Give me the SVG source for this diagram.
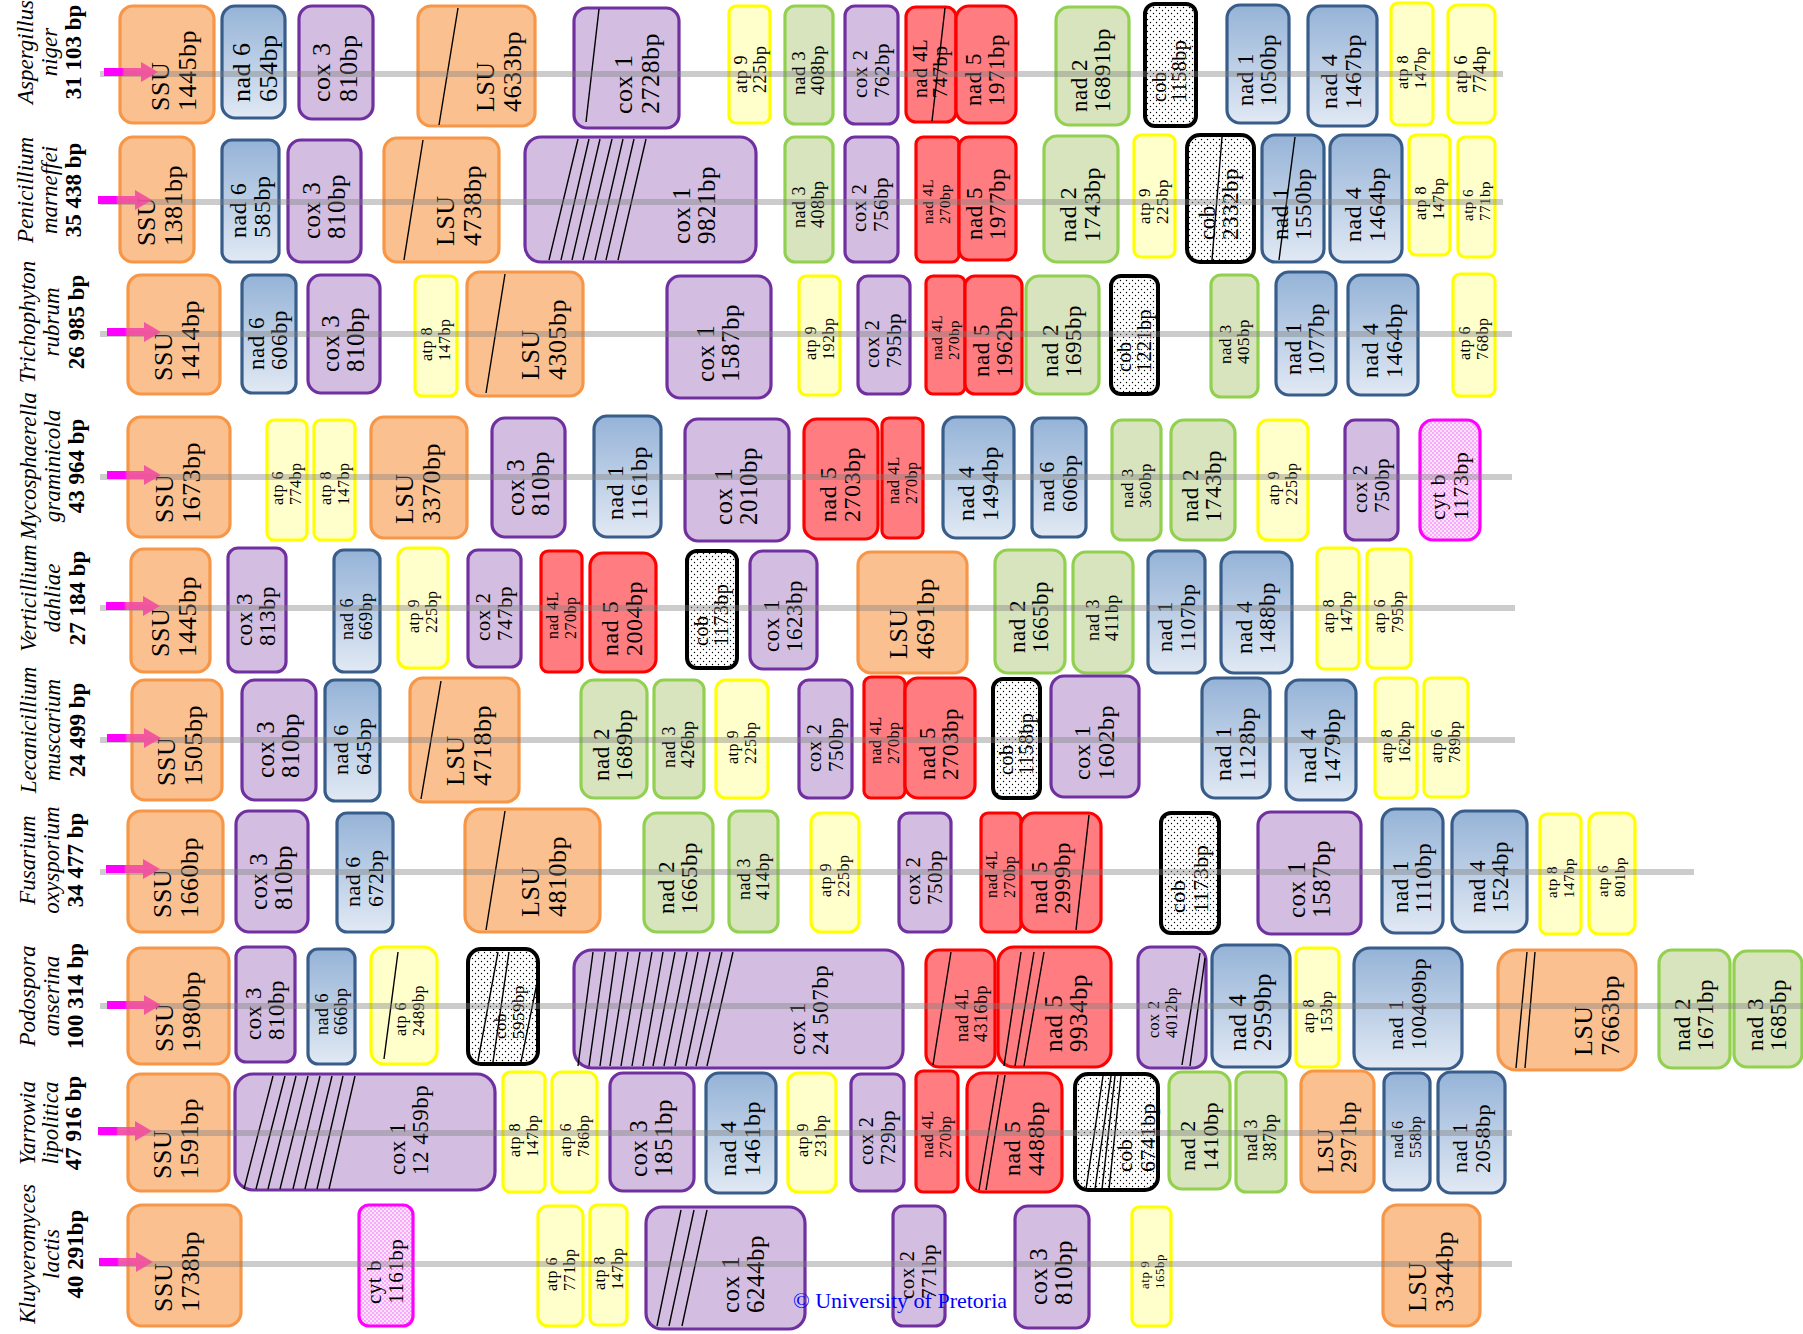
<svg xmlns="http://www.w3.org/2000/svg" width="1803" height="1334" viewBox="0 0 1803 1334">
<defs>
<linearGradient id="gb" x1="0" y1="0" x2="0" y2="1"><stop offset="0" stop-color="#95B3D7"/><stop offset="1" stop-color="#E1E9F4"/></linearGradient>
<linearGradient id="ga" x1="0" y1="0" x2="1" y2="0"><stop offset="0" stop-color="#FF00FF"/><stop offset="0.33" stop-color="#FF00FF"/><stop offset="0.38" stop-color="#F448A8" stop-opacity="0.9"/><stop offset="1" stop-color="#F0509A" stop-opacity="0.9"/></linearGradient>
<pattern id="dots" width="6" height="6" patternUnits="userSpaceOnUse"><rect width="6" height="6" fill="#fff"/><circle cx="1.5" cy="1.5" r="0.7" fill="#000"/><circle cx="4.5" cy="4.5" r="0.7" fill="#000"/></pattern>
<pattern id="pdots" width="4" height="4" patternUnits="userSpaceOnUse"><rect width="4" height="4" fill="#FFE4FF"/><circle cx="1" cy="1" r="0.7" fill="#F040F0"/><circle cx="3" cy="3" r="0.7" fill="#F040F0"/></pattern>
<path id="arr" d="M-54,-4 H-17 V-10 L0,0 L-17,10 V4 H-54 Z"/>
</defs>
<style>
.or{fill:#FAC090;stroke:#F79646;stroke-width:3.2}
.pu{fill:#D3BEE1;stroke:#7030A0;stroke-width:3.2}
.bl{fill:url(#gb);stroke:#385D8A;stroke-width:3.2}
.gr{fill:#D7E4BD;stroke:#92D050;stroke-width:3.2}
.rd{fill:#FF7C80;stroke:#FF0000;stroke-width:3.2}
.ye{fill:#FFFFCC;stroke:#FFFF00;stroke-width:3.2}
.cb{fill:url(#dots);stroke:#000;stroke-width:4}
.cy{fill:url(#pdots);stroke:#FF00FF;stroke-width:3.2}
text{font-family:"Liberation Serif","Times New Roman",serif;fill:#000;letter-spacing:0.5px}
.sl{stroke:#000;stroke-width:1.4;fill:none}
.f13{font-size:13px}.f15{font-size:15px}.f16{font-size:16px}.f17{font-size:17px}.f18{font-size:18px}.f19{font-size:19px}.f20{font-size:20px}.f21{font-size:21px}.f22{font-size:22px}.f23{font-size:23px}.f24{font-size:24px}.f25{font-size:25px}.f26{font-size:26px}
.sp{font-size:23px;text-anchor:middle;letter-spacing:0}
.it{font-style:italic}.bd{font-weight:bold}
.gl{stroke:#808080;stroke-width:6;stroke-opacity:0.4;fill:none}
.ar{fill:url(#ga)}
.cr{font-size:22px;fill:#0000FF;letter-spacing:0}
</style>
<rect width="1803" height="1334" fill="#fff"/>

<g id="species">
<g id="sp1"><text class="sp" transform="translate(0 52) rotate(-90)"><tspan class="it" x="0" y="33">Aspergillus</tspan><tspan class="it" x="0" y="57">niger</tspan><tspan class="bd" x="0" y="81">31 103 bp</tspan></text></g>
<g id="sp2"><text class="sp" transform="translate(0 190) rotate(-90)"><tspan class="it" x="0" y="33">Penicillium</tspan><tspan class="it" x="0" y="57">marneffei</tspan><tspan class="bd" x="0" y="81">35 438 bp</tspan></text></g>
<g id="sp3"><text class="sp" transform="translate(0 322) rotate(-90)"><tspan class="it" x="0" y="35">Trichophyton</tspan><tspan class="it" x="0" y="59">rubrum</tspan><tspan class="bd" x="0" y="84">26 985 bp</tspan></text></g>
<g id="sp4"><text class="sp" transform="translate(0 466) rotate(-90)"><tspan class="it" x="0" y="36">Mycosphaerella</tspan><tspan class="it" x="0" y="60">graminicola</tspan><tspan class="bd" x="0" y="84">43 964 bp</tspan></text></g>
<g id="sp5"><text class="sp" transform="translate(0 598) rotate(-90)"><tspan class="it" x="0" y="36">Verticillium</tspan><tspan class="it" x="0" y="60">dahliae</tspan><tspan class="bd" x="0" y="85">27 184 bp</tspan></text></g>
<g id="sp6"><text class="sp" transform="translate(0 730) rotate(-90)"><tspan class="it" x="0" y="36">Lecanicillium</tspan><tspan class="it" x="0" y="60">muscarium</tspan><tspan class="bd" x="0" y="85">24 499 bp</tspan></text></g>
<g id="sp7"><text class="sp" transform="translate(0 860) rotate(-90)"><tspan class="it" x="0" y="35">Fusarium</tspan><tspan class="it" x="0" y="59">oxysporium</tspan><tspan class="bd" x="0" y="83">34 477 bp</tspan></text></g>
<g id="sp8"><text class="sp" transform="translate(0 996) rotate(-90)"><tspan class="it" x="0" y="35">Podospora</tspan><tspan class="it" x="0" y="59">anserina</tspan><tspan class="bd" x="0" y="83">100 314 bp</tspan></text></g>
<g id="sp9"><text class="sp" transform="translate(0 1123) rotate(-90)"><tspan class="it" x="0" y="35">Yarrowia</tspan><tspan class="it" x="0" y="58">lipolitica</tspan><tspan class="bd" x="0" y="81">47 916 bp</tspan></text></g>
<g id="sp10"><text class="sp" transform="translate(0 1254) rotate(-90)"><tspan class="it" x="0" y="35">Kluyveromyces</tspan><tspan class="it" x="0" y="59">lactis</tspan><tspan class="bd" x="0" y="83">40 291bp</tspan></text></g>
</g>

<g id="row1">
<g id="r1-ssu"><rect class="or" x="120" y="6" width="94" height="117" rx="13"/><text class="f26" transform="translate(175 111) rotate(-90)"><tspan x="0" y="-5.7">SSU</tspan><tspan x="0" y="20.8">1445bp</tspan></text></g>
<g id="r1-nad6"><rect class="bl" x="222" y="6" width="63" height="112" rx="13"/><text class="f26" transform="translate(256 102) rotate(-90)"><tspan x="0" y="-5.7">nad 6</tspan><tspan x="0" y="20.8">654bp</tspan></text></g>
<g id="r1-cox3"><rect class="pu" x="299" y="6" width="74" height="113" rx="13"/><text class="f26" transform="translate(336 102) rotate(-90)"><tspan x="0" y="-5.7">cox 3</tspan><tspan x="0" y="20.8">810bp</tspan></text></g>
<g id="r1-lsu"><rect class="or" x="418" y="6" width="117" height="120" rx="13"/><line class="sl" x1="458" y1="8" x2="439" y2="125"/><text class="f26" transform="translate(500 112) rotate(-90)"><tspan x="0" y="-5.7">LSU</tspan><tspan x="0" y="20.8">4633bp</tspan></text></g>
<g id="r1-cox1"><rect class="pu" x="574" y="8" width="105" height="120" rx="13"/><line class="sl" x1="599" y1="9" x2="586" y2="122"/><text class="f26" transform="translate(638 114) rotate(-90)"><tspan x="0" y="-5.7">cox 1</tspan><tspan x="0" y="20.8">2728bp</tspan></text></g>
<g id="r1-atp9"><rect class="ye" x="729" y="6" width="41" height="117" rx="7"/><text class="f18" transform="translate(751 93) rotate(-90)"><tspan x="0" y="-4">atp 9</tspan><tspan x="0" y="14.6">225bp</tspan></text></g>
<g id="r1-nad3"><rect class="gr" x="785" y="6" width="48" height="118" rx="10"/><text class="f19" transform="translate(809 95) rotate(-90)"><tspan x="0" y="-4.2">nad 3</tspan><tspan x="0" y="15.2">408bp</tspan></text></g>
<g id="r1-cox2"><rect class="pu" x="845" y="6" width="53" height="118" rx="10"/><text class="f21" transform="translate(872 98) rotate(-90)"><tspan x="0" y="-4.6">cox 2</tspan><tspan x="0" y="16.8">762bp</tspan></text></g>
<g id="r1-nad4L"><rect class="rd" x="906" y="7" width="50" height="115" rx="10"/><line class="sl" x1="945" y1="8" x2="932" y2="121"/><text class="f20" transform="translate(931 98) rotate(-90)"><tspan x="0" y="-4.4">nad 4L</tspan><tspan x="0" y="16">747bp</tspan></text></g>
<g id="r1-nad5"><rect class="rd" x="956" y="6" width="60" height="117" rx="13"/><text class="f23" transform="translate(986 106) rotate(-90)"><tspan x="0" y="-5.1">nad 5</tspan><tspan x="0" y="18.4">1971bp</tspan></text></g>
<g id="r1-nad2"><rect class="gr" x="1056" y="7" width="73" height="118" rx="13"/><text class="f23" transform="translate(1092 112) rotate(-90)"><tspan x="0" y="-5.1">nad 2</tspan><tspan x="0" y="18.4">16891bp</tspan></text></g>
<g id="r1-cob"><rect class="cb" x="1145" y="4" width="51" height="122" rx="10"/><text class="f20" transform="translate(1170 102) rotate(-90)"><tspan x="0" y="-4.4">cob</tspan><tspan x="0" y="16">1158bp</tspan></text></g>
<g id="r1-nad1"><rect class="bl" x="1227" y="5" width="62" height="118" rx="13"/><text class="f23" transform="translate(1258 106) rotate(-90)"><tspan x="0" y="-5.1">nad 1</tspan><tspan x="0" y="18.4">1050bp</tspan></text></g>
<g id="r1-nad4"><rect class="bl" x="1308" y="6" width="69" height="120" rx="13"/><text class="f24" transform="translate(1342 109) rotate(-90)"><tspan x="0" y="-5.3">nad 4</tspan><tspan x="0" y="19.2">1467bp</tspan></text></g>
<g id="r1-atp8"><rect class="ye" x="1391" y="3" width="42" height="122" rx="7"/><text class="f16" transform="translate(1412 89) rotate(-90)"><tspan x="0" y="-3.8">atp 8</tspan><tspan x="0" y="14">147bp</tspan></text></g>
<g id="r1-atp6"><rect class="ye" x="1448" y="5" width="47" height="118" rx="10"/><text class="f18" transform="translate(1471 93) rotate(-90)"><tspan x="0" y="-4">atp 6</tspan><tspan x="0" y="14.6">774bp</tspan></text></g>
</g>

<g id="row2">
<g id="r2-ssu"><rect class="or" x="120" y="137" width="74" height="125" rx="13"/><text class="f26" transform="translate(161 246) rotate(-90)"><tspan x="0" y="-5.7">SSU</tspan><tspan x="0" y="20.8">1381bp</tspan></text></g>
<g id="r2-nad6"><rect class="bl" x="222" y="140" width="57" height="122" rx="10"/><text class="f24" transform="translate(251 238) rotate(-90)"><tspan x="0" y="-5.3">nad 6</tspan><tspan x="0" y="19.2">585bp</tspan></text></g>
<g id="r2-cox3"><rect class="pu" x="288" y="140" width="73" height="122" rx="13"/><text class="f25" transform="translate(325 239) rotate(-90)"><tspan x="0" y="-5.5">cox 3</tspan><tspan x="0" y="20">810bp</tspan></text></g>
<g id="r2-lsu"><rect class="or" x="384" y="138" width="115" height="124" rx="13"/><line class="sl" x1="423" y1="140" x2="404" y2="260"/><text class="f26" transform="translate(460 246) rotate(-90)"><tspan x="0" y="-5.7">LSU</tspan><tspan x="0" y="20.8">4738bp</tspan></text></g>
<g id="r2-cox1"><rect class="pu" x="525" y="137" width="231" height="125" rx="16"/><path class="sl" d="M578,139L549,260M589,139L561,260M600,139L572,260M612,139L583,260M623,139L595,260M634,139L606,260M646,139L618,260"/><text class="f25" transform="translate(695 244) rotate(-90)"><tspan x="0" y="-5.5">cox 1</tspan><tspan x="0" y="20">9821bp</tspan></text></g>
<g id="r2-nad3"><rect class="gr" x="785" y="137" width="48" height="125" rx="10"/><text class="f18" transform="translate(809 228) rotate(-90)"><tspan x="0" y="-4">nad 3</tspan><tspan x="0" y="14.6">408bp</tspan></text></g>
<g id="r2-cox2"><rect class="pu" x="845" y="137" width="53" height="125" rx="10"/><text class="f21" transform="translate(871 232) rotate(-90)"><tspan x="0" y="-4.6">cox 2</tspan><tspan x="0" y="16.8">756bp</tspan></text></g>
<g id="r2-nad4L"><rect class="rd" x="916" y="137" width="43" height="125" rx="7"/><text class="f15" transform="translate(937 224) rotate(-90)"><tspan x="0" y="-3.6">nad 4L</tspan><tspan x="0" y="13.2">270bp</tspan></text></g>
<g id="r2-nad5"><rect class="rd" x="959" y="137" width="57" height="123" rx="10"/><text class="f23" transform="translate(987 240) rotate(-90)"><tspan x="0" y="-5.1">nad 5</tspan><tspan x="0" y="18.4">1977bp</tspan></text></g>
<g id="r2-nad2"><rect class="gr" x="1044" y="136" width="74" height="126" rx="13"/><text class="f24" transform="translate(1081 242) rotate(-90)"><tspan x="0" y="-5.3">nad 2</tspan><tspan x="0" y="19.2">1743bp</tspan></text></g>
<g id="r2-atp9"><rect class="ye" x="1134" y="135" width="41" height="122" rx="7"/><text class="f17" transform="translate(1154 224) rotate(-90)"><tspan x="0" y="-3.9">atp 9</tspan><tspan x="0" y="14.4">225bp</tspan></text></g>
<g id="r2-cob"><rect class="cb" x="1187" y="135" width="67" height="127" rx="13"/><line class="sl" x1="1222" y1="137" x2="1212" y2="260"/><text class="f23" transform="translate(1220 240) rotate(-90)"><tspan x="0" y="-5.1">cob</tspan><tspan x="0" y="18.4">2332bp</tspan></text></g>
<g id="r2-nad1"><rect class="bl" x="1262" y="135" width="62" height="127" rx="13"/><line class="sl" x1="1295" y1="137" x2="1279" y2="260"/><text class="f23" transform="translate(1293 240) rotate(-90)"><tspan x="0" y="-5.1">nad 1</tspan><tspan x="0" y="18.4">1550bp</tspan></text></g>
<g id="r2-nad4"><rect class="bl" x="1330" y="135" width="72" height="127" rx="13"/><text class="f24" transform="translate(1366 242) rotate(-90)"><tspan x="0" y="-5.3">nad 4</tspan><tspan x="0" y="19.2">1464bp</tspan></text></g>
<g id="r2-atp8"><rect class="ye" x="1409" y="135" width="41" height="120" rx="7"/><text class="f16" transform="translate(1430 220) rotate(-90)"><tspan x="0" y="-3.8">atp 8</tspan><tspan x="0" y="14">147bp</tspan></text></g>
<g id="r2-atp6"><rect class="ye" x="1458" y="137" width="37" height="120" rx="7"/><text class="f15" transform="translate(1477 221) rotate(-90)"><tspan x="0" y="-3.6">atp 6</tspan><tspan x="0" y="13.2">771bp</tspan></text></g>
</g>

<g id="row3">
<g id="r3-ssu"><rect class="or" x="128" y="275" width="92" height="119" rx="13"/><text class="f26" transform="translate(178 381) rotate(-90)"><tspan x="0" y="-5.7">SSU</tspan><tspan x="0" y="20.8">1414bp</tspan></text></g>
<g id="r3-nad6"><rect class="bl" x="242" y="275" width="54" height="118" rx="10"/><text class="f23" transform="translate(269 370) rotate(-90)"><tspan x="0" y="-5.1">nad 6</tspan><tspan x="0" y="18.4">606bp</tspan></text></g>
<g id="r3-cox3"><rect class="pu" x="308" y="275" width="72" height="118" rx="13"/><text class="f25" transform="translate(344 372) rotate(-90)"><tspan x="0" y="-5.5">cox 3</tspan><tspan x="0" y="20">810bp</tspan></text></g>
<g id="r3-atp8"><rect class="ye" x="415" y="276" width="42" height="120" rx="7"/><text class="f16" transform="translate(436 361) rotate(-90)"><tspan x="0" y="-3.8">atp 8</tspan><tspan x="0" y="14">147bp</tspan></text></g>
<g id="r3-lsu"><rect class="or" x="467" y="272" width="116" height="124" rx="13"/><line class="sl" x1="505" y1="274" x2="486" y2="393"/><text class="f26" transform="translate(545 380) rotate(-90)"><tspan x="0" y="-5.7">LSU</tspan><tspan x="0" y="20.8">4305bp</tspan></text></g>
<g id="r3-cox1"><rect class="pu" x="667" y="276" width="104" height="122" rx="13"/><text class="f25" transform="translate(719 382) rotate(-90)"><tspan x="0" y="-5.5">cox 1</tspan><tspan x="0" y="20">1587bp</tspan></text></g>
<g id="r3-atp9"><rect class="ye" x="799" y="276" width="41" height="119" rx="7"/><text class="f16" transform="translate(820 360) rotate(-90)"><tspan x="0" y="-3.8">atp 9</tspan><tspan x="0" y="14">192bp</tspan></text></g>
<g id="r3-cox2"><rect class="pu" x="858" y="276" width="52" height="118" rx="10"/><text class="f21" transform="translate(884 368) rotate(-90)"><tspan x="0" y="-4.6">cox 2</tspan><tspan x="0" y="16.8">795bp</tspan></text></g>
<g id="r3-nad4L"><rect class="rd" x="926" y="276" width="39" height="118" rx="7"/><text class="f15" transform="translate(946 360) rotate(-90)"><tspan x="0" y="-3.6">nad 4L</tspan><tspan x="0" y="13.2">270bp</tspan></text></g>
<g id="r3-nad5"><rect class="rd" x="965" y="276" width="57" height="118" rx="10"/><text class="f23" transform="translate(994 377) rotate(-90)"><tspan x="0" y="-5.1">nad 5</tspan><tspan x="0" y="18.4">1962bp</tspan></text></g>
<g id="r3-nad2"><rect class="gr" x="1026" y="276" width="73" height="118" rx="13"/><text class="f23" transform="translate(1063 377) rotate(-90)"><tspan x="0" y="-5.1">nad 2</tspan><tspan x="0" y="18.4">1695bp</tspan></text></g>
<g id="r3-cob"><rect class="cb" x="1111" y="276" width="47" height="118" rx="10"/><text class="f20" transform="translate(1135 372) rotate(-90)"><tspan x="0" y="-4.4">cob</tspan><tspan x="0" y="16">1221bp</tspan></text></g>
<g id="r3-nad3"><rect class="gr" x="1211" y="275" width="47" height="122" rx="10"/><text class="f17" transform="translate(1235 364) rotate(-90)"><tspan x="0" y="-3.9">nad 3</tspan><tspan x="0" y="14.4">405bp</tspan></text></g>
<g id="r3-nad1"><rect class="bl" x="1276" y="272" width="60" height="123" rx="13"/><text class="f23" transform="translate(1306 375) rotate(-90)"><tspan x="0" y="-5.1">nad 1</tspan><tspan x="0" y="18.4">1077bp</tspan></text></g>
<g id="r3-nad4"><rect class="bl" x="1348" y="275" width="70" height="120" rx="13"/><text class="f24" transform="translate(1383 378) rotate(-90)"><tspan x="0" y="-5.3">nad 4</tspan><tspan x="0" y="19.2">1464bp</tspan></text></g>
<g id="r3-atp6"><rect class="ye" x="1453" y="274" width="42" height="122" rx="7"/><text class="f16" transform="translate(1474 360) rotate(-90)"><tspan x="0" y="-3.8">atp 6</tspan><tspan x="0" y="14">768bp</tspan></text></g>
</g>

<g id="row4">
<g id="r4-ssu"><rect class="or" x="128" y="417" width="102" height="120" rx="13"/><text class="f26" transform="translate(179 523) rotate(-90)"><tspan x="0" y="-5.7">SSU</tspan><tspan x="0" y="20.8">1673bp</tspan></text></g>
<g id="r4-atp6"><rect class="ye" x="267" y="420" width="40" height="120" rx="7"/><text class="f16" transform="translate(287 505) rotate(-90)"><tspan x="0" y="-3.8">atp 6</tspan><tspan x="0" y="14">774bp</tspan></text></g>
<g id="r4-atp8"><rect class="ye" x="314" y="420" width="41" height="120" rx="7"/><text class="f16" transform="translate(335 505) rotate(-90)"><tspan x="0" y="-3.8">atp 8</tspan><tspan x="0" y="14">147bp</tspan></text></g>
<g id="r4-lsu"><rect class="or" x="371" y="417" width="96" height="121" rx="13"/><text class="f26" transform="translate(419 524) rotate(-90)"><tspan x="0" y="-5.7">LSU</tspan><tspan x="0" y="20.8">3370bp</tspan></text></g>
<g id="r4-cox3"><rect class="pu" x="492" y="418" width="73" height="119" rx="13"/><text class="f25" transform="translate(529 516) rotate(-90)"><tspan x="0" y="-5.5">cox 3</tspan><tspan x="0" y="20">810bp</tspan></text></g>
<g id="r4-nad1"><rect class="bl" x="594" y="416" width="67" height="121" rx="13"/><text class="f24" transform="translate(628 520) rotate(-90)"><tspan x="0" y="-5.3">nad 1</tspan><tspan x="0" y="19.2">1161bp</tspan></text></g>
<g id="r4-cox1"><rect class="pu" x="685" y="419" width="104" height="122" rx="13"/><text class="f25" transform="translate(737 525) rotate(-90)"><tspan x="0" y="-5.5">cox 1</tspan><tspan x="0" y="20">2010bp</tspan></text></g>
<g id="r4-nad5"><rect class="rd" x="804" y="419" width="74" height="120" rx="13"/><text class="f24" transform="translate(841 522) rotate(-90)"><tspan x="0" y="-5.3">nad 5</tspan><tspan x="0" y="19.2">2703bp</tspan></text></g>
<g id="r4-nad4L"><rect class="rd" x="882" y="418" width="41" height="120" rx="7"/><text class="f16" transform="translate(903 504) rotate(-90)"><tspan x="0" y="-3.8">nad 4L</tspan><tspan x="0" y="14">270bp</tspan></text></g>
<g id="r4-nad4"><rect class="bl" x="943" y="417" width="71" height="121" rx="13"/><text class="f24" transform="translate(979 521) rotate(-90)"><tspan x="0" y="-5.3">nad 4</tspan><tspan x="0" y="19.2">1494bp</tspan></text></g>
<g id="r4-nad6"><rect class="bl" x="1032" y="418" width="54" height="119" rx="10"/><text class="f22" transform="translate(1059 512) rotate(-90)"><tspan x="0" y="-4.8">nad 6</tspan><tspan x="0" y="17.6">606bp</tspan></text></g>
<g id="r4-nad3"><rect class="gr" x="1112" y="420" width="49" height="120" rx="10"/><text class="f17" transform="translate(1137 508) rotate(-90)"><tspan x="0" y="-3.9">nad 3</tspan><tspan x="0" y="14.4">360bp</tspan></text></g>
<g id="r4-nad2"><rect class="gr" x="1171" y="420" width="64" height="120" rx="13"/><text class="f23" transform="translate(1203 522) rotate(-90)"><tspan x="0" y="-5.1">nad 2</tspan><tspan x="0" y="18.4">1743bp</tspan></text></g>
<g id="r4-atp9"><rect class="ye" x="1258" y="420" width="50" height="120" rx="10"/><text class="f16" transform="translate(1283 505) rotate(-90)"><tspan x="0" y="-3.8">atp 9</tspan><tspan x="0" y="14">225bp</tspan></text></g>
<g id="r4-cox2"><rect class="pu" x="1345" y="420" width="53" height="120" rx="10"/><text class="f21" transform="translate(1372 513) rotate(-90)"><tspan x="0" y="-4.6">cox 2</tspan><tspan x="0" y="16.8">750bp</tspan></text></g>
<g id="r4-cytb"><rect class="cy" x="1420" y="420" width="60" height="120" rx="13"/><text class="f22" transform="translate(1450 520) rotate(-90)"><tspan x="0" y="-4.8">cyt b</tspan><tspan x="0" y="17.6">1173bp</tspan></text></g>
</g>

<g id="row5">
<g id="r5-ssu"><rect class="or" x="131" y="549" width="79" height="123" rx="13"/><text class="f26" transform="translate(175 657) rotate(-90)"><tspan x="0" y="-5.7">SSU</tspan><tspan x="0" y="20.8">1445bp</tspan></text></g>
<g id="r5-cox3"><rect class="pu" x="228" y="548" width="58" height="124" rx="10"/><text class="f23" transform="translate(257 646) rotate(-90)"><tspan x="0" y="-5.1">cox 3</tspan><tspan x="0" y="18.4">813bp</tspan></text></g>
<g id="r5-nad6"><rect class="bl" x="334" y="550" width="46" height="122" rx="10"/><text class="f18" transform="translate(357 640) rotate(-90)"><tspan x="0" y="-4">nad 6</tspan><tspan x="0" y="14.6">669bp</tspan></text></g>
<g id="r5-atp9"><rect class="ye" x="398" y="548" width="50" height="120" rx="10"/><text class="f16" transform="translate(423 633) rotate(-90)"><tspan x="0" y="-3.8">atp 9</tspan><tspan x="0" y="14">225bp</tspan></text></g>
<g id="r5-cox2"><rect class="pu" x="468" y="550" width="53" height="117" rx="10"/><text class="f21" transform="translate(495 641) rotate(-90)"><tspan x="0" y="-4.6">cox 2</tspan><tspan x="0" y="16.8">747bp</tspan></text></g>
<g id="r5-nad4L"><rect class="rd" x="541" y="551" width="41" height="121" rx="7"/><text class="f16" transform="translate(562 639) rotate(-90)"><tspan x="0" y="-3.8">nad 4L</tspan><tspan x="0" y="14">270bp</tspan></text></g>
<g id="r5-nad5"><rect class="rd" x="590" y="553" width="66" height="119" rx="13"/><text class="f24" transform="translate(623 656) rotate(-90)"><tspan x="0" y="-5.3">nad 5</tspan><tspan x="0" y="19.2">2004bp</tspan></text></g>
<g id="r5-cob"><rect class="cb" x="687" y="551" width="50" height="117" rx="10"/><text class="f20" transform="translate(712 646) rotate(-90)"><tspan x="0" y="-4.4">cob</tspan><tspan x="0" y="16">1173bp</tspan></text></g>
<g id="r5-cox1"><rect class="pu" x="750" y="551" width="67" height="118" rx="13"/><text class="f23" transform="translate(784 652) rotate(-90)"><tspan x="0" y="-5.1">cox 1</tspan><tspan x="0" y="18.4">1623bp</tspan></text></g>
<g id="r5-lsu"><rect class="or" x="858" y="552" width="109" height="121" rx="13"/><text class="f26" transform="translate(913 659) rotate(-90)"><tspan x="0" y="-5.7">LSU</tspan><tspan x="0" y="20.8">4691bp</tspan></text></g>
<g id="r5-nad2"><rect class="gr" x="995" y="550" width="70" height="123" rx="13"/><text class="f23" transform="translate(1030 653) rotate(-90)"><tspan x="0" y="-5.1">nad 2</tspan><tspan x="0" y="18.4">1665bp</tspan></text></g>
<g id="r5-nad3"><rect class="gr" x="1073" y="552" width="60" height="121" rx="13"/><text class="f18" transform="translate(1103 641) rotate(-90)"><tspan x="0" y="-4">nad 3</tspan><tspan x="0" y="14.6">411bp</tspan></text></g>
<g id="r5-nad1"><rect class="bl" x="1148" y="551" width="57" height="122" rx="10"/><text class="f22" transform="translate(1177 652) rotate(-90)"><tspan x="0" y="-4.8">nad 1</tspan><tspan x="0" y="17.6">1107bp</tspan></text></g>
<g id="r5-nad4"><rect class="bl" x="1221" y="552" width="71" height="121" rx="13"/><text class="f23" transform="translate(1257 654) rotate(-90)"><tspan x="0" y="-5.1">nad 4</tspan><tspan x="0" y="18.4">1488bp</tspan></text></g>
<g id="r5-atp8"><rect class="ye" x="1317" y="548" width="42" height="121" rx="7"/><text class="f16" transform="translate(1338 633) rotate(-90)"><tspan x="0" y="-3.8">atp 8</tspan><tspan x="0" y="14">147bp</tspan></text></g>
<g id="r5-atp6"><rect class="ye" x="1367" y="549" width="44" height="119" rx="7"/><text class="f16" transform="translate(1389 633) rotate(-90)"><tspan x="0" y="-3.8">atp 6</tspan><tspan x="0" y="14">795bp</tspan></text></g>
</g>

<g id="row6">
<g id="r6-ssu"><rect class="or" x="132" y="680" width="90" height="120" rx="13"/><text class="f26" transform="translate(181 786) rotate(-90)"><tspan x="0" y="-5.7">SSU</tspan><tspan x="0" y="20.8">1505bp</tspan></text></g>
<g id="r6-cox3"><rect class="pu" x="242" y="680" width="74" height="120" rx="13"/><text class="f25" transform="translate(279 778) rotate(-90)"><tspan x="0" y="-5.5">cox 3</tspan><tspan x="0" y="20">810bp</tspan></text></g>
<g id="r6-nad6"><rect class="bl" x="325" y="680" width="55" height="121" rx="10"/><text class="f22" transform="translate(353 775) rotate(-90)"><tspan x="0" y="-4.8">nad 6</tspan><tspan x="0" y="17.6">645bp</tspan></text></g>
<g id="r6-lsu"><rect class="or" x="410" y="678" width="109" height="124" rx="13"/><line class="sl" x1="441" y1="681" x2="421" y2="799"/><text class="f26" transform="translate(470 786) rotate(-90)"><tspan x="0" y="-5.7">LSU</tspan><tspan x="0" y="20.8">4718bp</tspan></text></g>
<g id="r6-nad2"><rect class="gr" x="581" y="680" width="66" height="118" rx="13"/><text class="f23" transform="translate(614 781) rotate(-90)"><tspan x="0" y="-5.1">nad 2</tspan><tspan x="0" y="18.4">1689bp</tspan></text></g>
<g id="r6-nad3"><rect class="gr" x="654" y="680" width="50" height="118" rx="10"/><text class="f18" transform="translate(679 768) rotate(-90)"><tspan x="0" y="-4">nad 3</tspan><tspan x="0" y="14.6">426bp</tspan></text></g>
<g id="r6-atp9"><rect class="ye" x="716" y="680" width="52" height="118" rx="10"/><text class="f16" transform="translate(742 764) rotate(-90)"><tspan x="0" y="-3.8">atp 9</tspan><tspan x="0" y="14">225bp</tspan></text></g>
<g id="r6-cox2"><rect class="pu" x="799" y="680" width="53" height="118" rx="10"/><text class="f21" transform="translate(826 772) rotate(-90)"><tspan x="0" y="-4.6">cox 2</tspan><tspan x="0" y="16.8">750bp</tspan></text></g>
<g id="r6-nad4L"><rect class="rd" x="864" y="677" width="41" height="121" rx="7"/><text class="f16" transform="translate(885 764) rotate(-90)"><tspan x="0" y="-3.8">nad 4L</tspan><tspan x="0" y="14">270bp</tspan></text></g>
<g id="r6-nad5"><rect class="rd" x="905" y="678" width="70" height="120" rx="13"/><text class="f23" transform="translate(940 780) rotate(-90)"><tspan x="0" y="-5.1">nad 5</tspan><tspan x="0" y="18.4">2703bp</tspan></text></g>
<g id="r6-cob"><rect class="cb" x="993" y="679" width="47" height="119" rx="10"/><text class="f20" transform="translate(1017 775) rotate(-90)"><tspan x="0" y="-4.4">cob</tspan><tspan x="0" y="16">1158bp</tspan></text></g>
<g id="r6-cox1"><rect class="pu" x="1051" y="676" width="88" height="121" rx="13"/><text class="f24" transform="translate(1095 780) rotate(-90)"><tspan x="0" y="-5.3">cox 1</tspan><tspan x="0" y="19.2">1602bp</tspan></text></g>
<g id="r6-nad1"><rect class="bl" x="1202" y="678" width="68" height="120" rx="13"/><text class="f24" transform="translate(1236 781) rotate(-90)"><tspan x="0" y="-5.3">nad 1</tspan><tspan x="0" y="19.2">1128bp</tspan></text></g>
<g id="r6-nad4"><rect class="bl" x="1286" y="680" width="70" height="120" rx="13"/><text class="f24" transform="translate(1321 783) rotate(-90)"><tspan x="0" y="-5.3">nad 4</tspan><tspan x="0" y="19.2">1479bp</tspan></text></g>
<g id="r6-atp8"><rect class="ye" x="1375" y="678" width="42" height="120" rx="7"/><text class="f16" transform="translate(1396 763) rotate(-90)"><tspan x="0" y="-3.8">atp 8</tspan><tspan x="0" y="14">162bp</tspan></text></g>
<g id="r6-atp6"><rect class="ye" x="1424" y="678" width="44" height="119" rx="7"/><text class="f16" transform="translate(1446 763) rotate(-90)"><tspan x="0" y="-3.8">atp 6</tspan><tspan x="0" y="14">789bp</tspan></text></g>
</g>

<g id="row7">
<g id="r7-ssu"><rect class="or" x="128" y="811" width="95" height="121" rx="13"/><text class="f26" transform="translate(177 918) rotate(-90)"><tspan x="0" y="-5.7">SSU</tspan><tspan x="0" y="20.8">1660bp</tspan></text></g>
<g id="r7-cox3"><rect class="pu" x="236" y="811" width="72" height="121" rx="13"/><text class="f25" transform="translate(272 910) rotate(-90)"><tspan x="0" y="-5.5">cox 3</tspan><tspan x="0" y="20">810bp</tspan></text></g>
<g id="r7-nad6"><rect class="bl" x="337" y="813" width="56" height="119" rx="10"/><text class="f22" transform="translate(365 907) rotate(-90)"><tspan x="0" y="-4.8">nad 6</tspan><tspan x="0" y="17.6">672bp</tspan></text></g>
<g id="r7-lsu"><rect class="or" x="465" y="809" width="135" height="123" rx="16"/><line class="sl" x1="505" y1="811" x2="486" y2="930"/><text class="f26" transform="translate(545 917) rotate(-90)"><tspan x="0" y="-5.7">LSU</tspan><tspan x="0" y="20.8">4810bp</tspan></text></g>
<g id="r7-nad2"><rect class="gr" x="644" y="813" width="69" height="119" rx="13"/><text class="f23" transform="translate(679 914) rotate(-90)"><tspan x="0" y="-5.1">nad 2</tspan><tspan x="0" y="18.4">1665bp</tspan></text></g>
<g id="r7-nad3"><rect class="gr" x="729" y="811" width="49" height="121" rx="10"/><text class="f18" transform="translate(754 900) rotate(-90)"><tspan x="0" y="-4">nad 3</tspan><tspan x="0" y="14.6">414bp</tspan></text></g>
<g id="r7-atp9"><rect class="ye" x="811" y="813" width="48" height="119" rx="10"/><text class="f16" transform="translate(835 897) rotate(-90)"><tspan x="0" y="-3.8">atp 9</tspan><tspan x="0" y="14">225bp</tspan></text></g>
<g id="r7-cox2"><rect class="pu" x="899" y="813" width="52" height="119" rx="10"/><text class="f21" transform="translate(925 905) rotate(-90)"><tspan x="0" y="-4.6">cox 2</tspan><tspan x="0" y="16.8">750bp</tspan></text></g>
<g id="r7-nad4L"><rect class="rd" x="981" y="813" width="40" height="119" rx="7"/><text class="f16" transform="translate(1001 898) rotate(-90)"><tspan x="0" y="-3.8">nad 4L</tspan><tspan x="0" y="14">270bp</tspan></text></g>
<g id="r7-nad5"><rect class="rd" x="1021" y="813" width="80" height="119" rx="13"/><line class="sl" x1="1089" y1="815" x2="1076" y2="930"/><text class="f23" transform="translate(1052 914) rotate(-90)"><tspan x="0" y="-5.1">nad 5</tspan><tspan x="0" y="18.4">2999bp</tspan></text></g>
<g id="r7-cob"><rect class="cb" x="1161" y="813" width="58" height="120" rx="10"/><text class="f22" transform="translate(1190 913) rotate(-90)"><tspan x="0" y="-4.8">cob</tspan><tspan x="0" y="17.6">1173bp</tspan></text></g>
<g id="r7-cox1"><rect class="pu" x="1258" y="812" width="103" height="122" rx="13"/><text class="f25" transform="translate(1310 918) rotate(-90)"><tspan x="0" y="-5.5">cox 1</tspan><tspan x="0" y="20">1587bp</tspan></text></g>
<g id="r7-nad1"><rect class="bl" x="1382" y="809" width="61" height="124" rx="13"/><text class="f23" transform="translate(1413 913) rotate(-90)"><tspan x="0" y="-5.1">nad 1</tspan><tspan x="0" y="18.4">1110bp</tspan></text></g>
<g id="r7-nad4"><rect class="bl" x="1452" y="811" width="75" height="121" rx="13"/><text class="f23" transform="translate(1490 913) rotate(-90)"><tspan x="0" y="-5.1">nad 4</tspan><tspan x="0" y="18.4">1524bp</tspan></text></g>
<g id="r7-atp8"><rect class="ye" x="1540" y="814" width="41" height="120" rx="7"/><text class="f15" transform="translate(1561 898) rotate(-90)"><tspan x="0" y="-3.6">atp 8</tspan><tspan x="0" y="13.2">147bp</tspan></text></g>
<g id="r7-atp6"><rect class="ye" x="1589" y="813" width="46" height="121" rx="10"/><text class="f15" transform="translate(1612 897) rotate(-90)"><tspan x="0" y="-3.6">atp 6</tspan><tspan x="0" y="13.2">801bp</tspan></text></g>
</g>

<g id="row8">
<g id="r8-ssu"><rect class="or" x="128" y="948" width="101" height="116" rx="13"/><text class="f26" transform="translate(179 1052) rotate(-90)"><tspan x="0" y="-5.7">SSU</tspan><tspan x="0" y="20.8">1980bp</tspan></text></g>
<g id="r8-cox3"><rect class="pu" x="236" y="947" width="59" height="115" rx="10"/><text class="f23" transform="translate(266 1040) rotate(-90)"><tspan x="0" y="-5.1">cox 3</tspan><tspan x="0" y="18.4">810bp</tspan></text></g>
<g id="r8-nad6"><rect class="bl" x="308" y="949" width="47" height="115" rx="10"/><text class="f18" transform="translate(332 1035) rotate(-90)"><tspan x="0" y="-4">nad 6</tspan><tspan x="0" y="14.6">666bp</tspan></text></g>
<g id="r8-atp6"><rect class="ye" x="371" y="947" width="66" height="117" rx="13"/><line class="sl" x1="398" y1="952" x2="384" y2="1059"/><text class="f16" transform="translate(410 1036) rotate(-90)"><tspan x="0" y="-3.8">atp 6</tspan><tspan x="0" y="14">2489bp</tspan></text></g>
<g id="r8-cob"><rect class="cb" x="468" y="949" width="70" height="115" rx="13"/><path class="sl" d="M498,952L478,1061M509,952L493,1062M537,983L521,1062"/><text class="f17" transform="translate(510 1039) rotate(-90)"><tspan x="0" y="-3.9">cob</tspan><tspan x="0" y="14.4">5959bp</tspan></text></g>
<g id="r8-cox1"><rect class="pu" x="574" y="950" width="329" height="118" rx="18"/><path class="sl" d="M593,952L578,1066M605,952L589,1066M616,952L600,1066M628,952L610,1066M640,952L621,1066M652,952L632,1066M663,952L643,1066M675,952L653,1066M687,952L664,1066M698,952L675,1066M710,952L686,1066M722,952L696,1066M733,952L707,1066"/><text class="f23" transform="translate(810 1055) rotate(-90)"><tspan x="0" y="-5.1">cox 1</tspan><tspan x="0" y="18.4">24 507bp</tspan></text></g>
<g id="r8-nad4L"><rect class="rd" x="926" y="950" width="69" height="117" rx="13"/><line class="sl" x1="951" y1="952" x2="933" y2="1065"/><text class="f18" transform="translate(972 1042) rotate(-90)"><tspan x="0" y="-4">nad 4L</tspan><tspan x="0" y="14.6">4316bp</tspan></text></g>
<g id="r8-nad5"><rect class="rd" x="998" y="947" width="113" height="120" rx="16"/><path class="sl" d="M1021,952L1004,1066M1034,952L1015,1066M1044,952L1024,1066"/><text class="f25" transform="translate(1067 1052) rotate(-90)"><tspan x="0" y="-5.5">nad 5</tspan><tspan x="0" y="20">9934bp</tspan></text></g>
<g id="r8-cox2"><rect class="pu" x="1138" y="947" width="68" height="121" rx="13"/><path class="sl" d="M1200,953L1182,1065M1205,958L1190,1066"/><text class="f16" transform="translate(1163 1038) rotate(-90)"><tspan x="0" y="-3.8">cox 2</tspan><tspan x="0" y="14">4012bp</tspan></text></g>
<g id="r8-nad4"><rect class="bl" x="1212" y="945" width="78" height="122" rx="13"/><text class="f25" transform="translate(1251 1051) rotate(-90)"><tspan x="0" y="-5.5">nad 4</tspan><tspan x="0" y="20">2959bp</tspan></text></g>
<g id="r8-atp8"><rect class="ye" x="1296" y="948" width="43" height="119" rx="7"/><text class="f16" transform="translate(1318 1033) rotate(-90)"><tspan x="0" y="-3.8">atp 8</tspan><tspan x="0" y="14">153bp</tspan></text></g>
<g id="r8-nad1"><rect class="bl" x="1354" y="948" width="108" height="121" rx="16"/><text class="f22" transform="translate(1408 1050) rotate(-90)"><tspan x="0" y="-4.8">nad 1</tspan><tspan x="0" y="17.6">100409bp</tspan></text></g>
<g id="r8-lsu"><rect class="or" x="1498" y="950" width="138" height="120" rx="18"/><path class="sl" d="M1527,952L1516,1068M1535,952L1525,1068"/><text class="f26" transform="translate(1598 1056) rotate(-90)"><tspan x="0" y="-5.7">LSU</tspan><tspan x="0" y="20.8">7663bp</tspan></text></g>
<g id="r8-nad2"><rect class="gr" x="1659" y="950" width="71" height="118" rx="13"/><text class="f23" transform="translate(1695 1051) rotate(-90)"><tspan x="0" y="-5.1">nad 2</tspan><tspan x="0" y="18.4">1671bp</tspan></text></g>
<g id="r8-nad3"><rect class="gr" x="1734" y="951" width="68" height="116" rx="13"/><text class="f23" transform="translate(1768 1051) rotate(-90)"><tspan x="0" y="-5.1">nad 3</tspan><tspan x="0" y="18.4">1685bp</tspan></text></g>
</g>

<g id="row9">
<g id="r9-ssu"><rect class="or" x="128" y="1074" width="101" height="117" rx="13"/><text class="f26" transform="translate(177 1179) rotate(-90)"><tspan x="0" y="-5.7">SSU</tspan><tspan x="0" y="20.8">1591bp</tspan></text></g>
<g id="r9-cox1"><rect class="pu" x="235" y="1074" width="260" height="116" rx="18"/><path class="sl" d="M273,1076L244,1189M285,1076L256,1189M296,1076L268,1189M308,1076L280,1189M320,1076L293,1189M332,1076L305,1189M343,1076L317,1189M355,1076L329,1189"/><text class="f23" transform="translate(410 1175) rotate(-90)"><tspan x="0" y="-5.1">cox 1</tspan><tspan x="0" y="18.4">12 459bp</tspan></text></g>
<g id="r9-atp8"><rect class="ye" x="503" y="1072" width="42" height="120" rx="7"/><text class="f16" transform="translate(524 1157) rotate(-90)"><tspan x="0" y="-3.8">atp 8</tspan><tspan x="0" y="14">147bp</tspan></text></g>
<g id="r9-atp6"><rect class="ye" x="552" y="1072" width="45" height="120" rx="10"/><text class="f16" transform="translate(575 1157) rotate(-90)"><tspan x="0" y="-3.8">atp 6</tspan><tspan x="0" y="14">786bp</tspan></text></g>
<g id="r9-cox3"><rect class="pu" x="610" y="1073" width="84" height="118" rx="13"/><text class="f25" transform="translate(652 1177) rotate(-90)"><tspan x="0" y="-5.5">cox 3</tspan><tspan x="0" y="20">1851bp</tspan></text></g>
<g id="r9-nad4"><rect class="bl" x="706" y="1073" width="70" height="120" rx="13"/><text class="f24" transform="translate(741 1176) rotate(-90)"><tspan x="0" y="-5.3">nad 4</tspan><tspan x="0" y="19.2">1461bp</tspan></text></g>
<g id="r9-atp9"><rect class="ye" x="788" y="1073" width="48" height="119" rx="10"/><text class="f16" transform="translate(812 1157) rotate(-90)"><tspan x="0" y="-3.8">atp 9</tspan><tspan x="0" y="14">231bp</tspan></text></g>
<g id="r9-cox2"><rect class="pu" x="851" y="1074" width="53" height="117" rx="10"/><text class="f21" transform="translate(878 1165) rotate(-90)"><tspan x="0" y="-4.6">cox 2</tspan><tspan x="0" y="16.8">729bp</tspan></text></g>
<g id="r9-nad4L"><rect class="rd" x="916" y="1071" width="42" height="121" rx="7"/><text class="f16" transform="translate(937 1158) rotate(-90)"><tspan x="0" y="-3.8">nad 4L</tspan><tspan x="0" y="14">270bp</tspan></text></g>
<g id="r9-nad5"><rect class="rd" x="967" y="1073" width="95" height="119" rx="16"/><path class="sl" d="M998,1075L979,1190M1005,1075L986,1190"/><text class="f24" transform="translate(1025 1176) rotate(-90)"><tspan x="0" y="-5.3">nad 5</tspan><tspan x="0" y="19.2">4488bp</tspan></text></g>
<g id="r9-cob"><rect class="cb" x="1075" y="1074" width="83" height="116" rx="13"/><path class="sl" d="M1103,1076L1086,1189M1111,1076L1095,1189M1115,1076L1102,1189M1121,1076L1109,1189"/><text class="f22" transform="translate(1137 1172) rotate(-90)"><tspan x="0" y="-4.8">cob</tspan><tspan x="0" y="17.6">6741bp</tspan></text></g>
<g id="r9-nad2"><rect class="gr" x="1169" y="1072" width="61" height="117" rx="13"/><text class="f22" transform="translate(1200 1171) rotate(-90)"><tspan x="0" y="-4.8">nad 2</tspan><tspan x="0" y="17.6">1410bp</tspan></text></g>
<g id="r9-nad3"><rect class="gr" x="1236" y="1072" width="50" height="120" rx="10"/><text class="f18" transform="translate(1261 1161) rotate(-90)"><tspan x="0" y="-4">nad 3</tspan><tspan x="0" y="14.6">387bp</tspan></text></g>
<g id="r9-lsu"><rect class="or" x="1301" y="1071" width="73" height="121" rx="13"/><text class="f23" transform="translate(1338 1173) rotate(-90)"><tspan x="0" y="-5.1">LSU</tspan><tspan x="0" y="18.4">2971bp</tspan></text></g>
<g id="r9-nad6"><rect class="bl" x="1384" y="1073" width="46" height="117" rx="10"/><text class="f16" transform="translate(1407 1158) rotate(-90)"><tspan x="0" y="-3.8">nad 6</tspan><tspan x="0" y="14">558bp</tspan></text></g>
<g id="r9-nad1"><rect class="bl" x="1438" y="1072" width="67" height="121" rx="13"/><text class="f22" transform="translate(1472 1173) rotate(-90)"><tspan x="0" y="-4.8">nad 1</tspan><tspan x="0" y="17.6">2058bp</tspan></text></g>
</g>

<g id="row10">
<g id="r10-ssu"><rect class="or" x="128" y="1205" width="113" height="121" rx="14"/><text class="f26" transform="translate(178 1312) rotate(-90)"><tspan x="0" y="-5.7">SSU</tspan><tspan x="0" y="20.8">1738bp</tspan></text></g>
<g id="r10-cytb"><rect class="cy" x="359" y="1205" width="54" height="121" rx="10"/><text class="f21" transform="translate(386 1304) rotate(-90)"><tspan x="0" y="-4.6">cyt b</tspan><tspan x="0" y="16.8">1161bp</tspan></text></g>
<g id="r10-atp6"><rect class="ye" x="538" y="1206" width="45" height="120" rx="10"/><text class="f16" transform="translate(561 1291) rotate(-90)"><tspan x="0" y="-3.8">atp 6</tspan><tspan x="0" y="14">771bp</tspan></text></g>
<g id="r10-atp8"><rect class="ye" x="590" y="1205" width="37" height="120" rx="7"/><text class="f16" transform="translate(609 1290) rotate(-90)"><tspan x="0" y="-3.8">atp 8</tspan><tspan x="0" y="14">147bp</tspan></text></g>
<g id="r10-cox1"><rect class="pu" x="646" y="1207" width="159" height="122" rx="16"/><path class="sl" d="M681,1210L657,1326M694,1210L669,1326M707,1210L682,1326"/><text class="f25" transform="translate(744 1313) rotate(-90)"><tspan x="0" y="-5.5">cox 1</tspan><tspan x="0" y="20">6244bp</tspan></text></g>
<g id="r10-cox2"><rect class="pu" x="893" y="1206" width="52" height="120" rx="10"/><text class="f21" transform="translate(919 1299) rotate(-90)"><tspan x="0" y="-4.6">cox 2</tspan><tspan x="0" y="16.8">771bp</tspan></text></g>
<g id="r10-cox3"><rect class="pu" x="1015" y="1206" width="74" height="122" rx="13"/><text class="f25" transform="translate(1052 1305) rotate(-90)"><tspan x="0" y="-5.5">cox 3</tspan><tspan x="0" y="20">810bp</tspan></text></g>
<g id="r10-atp9"><rect class="ye" x="1132" y="1207" width="39" height="119" rx="7"/><text class="f13" transform="translate(1152 1289) rotate(-90)"><tspan x="0" y="-3.2">atp 9</tspan><tspan x="0" y="11.6">165bp</tspan></text></g>
<g id="r10-lsu"><rect class="or" x="1383" y="1205" width="97" height="121" rx="14"/><text class="f26" transform="translate(1432 1312) rotate(-90)"><tspan x="0" y="-5.7">LSU</tspan><tspan x="0" y="20.8">3344bp</tspan></text></g>
</g>

<g id="connectors">
<path class="gl" d="M100,74H1503M100,202H1503M100,334H1512M100,477H1512M100,608H1515M100,740H1515M100,872H1694M100,1006H1803M100,1133H1512M100,1264H1512"/>
<use href="#arr" class="ar" transform="translate(158 72)"/>
<use href="#arr" class="ar" transform="translate(152 200)"/>
<use href="#arr" class="ar" transform="translate(161 332)"/>
<use href="#arr" class="ar" transform="translate(161 475)"/>
<use href="#arr" class="ar" transform="translate(160 606)"/>
<use href="#arr" class="ar" transform="translate(161 738)"/>
<use href="#arr" class="ar" transform="translate(160 869)"/>
<use href="#arr" class="ar" transform="translate(161 1005)"/>
<use href="#arr" class="ar" transform="translate(152 1131)"/>
<use href="#arr" class="ar" transform="translate(153 1262)"/>
</g>

<text class="cr" x="793" y="1308">© University of Pretoria</text>
</svg>
